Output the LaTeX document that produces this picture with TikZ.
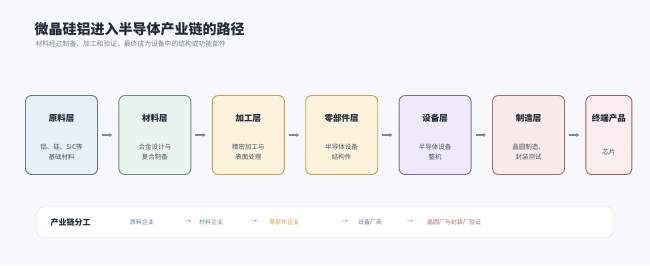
\documentclass[tikz,border=0pt]{standalone}
\usepackage{fontspec}
\setmainfont{Noto Sans CJK SC}
\usepackage{xcolor}
\usetikzlibrary{positioning, arrows.meta}

\definecolor{bgcol}{HTML}{F6F8FB}
\definecolor{ink}{HTML}{1F2A3A}
\definecolor{subgray}{HTML}{7A8490}
\definecolor{rawline}{HTML}{5B7A99}  \definecolor{rawfill}{HTML}{E8F0FA}
\definecolor{matline}{HTML}{6B8F73}  \definecolor{matfill}{HTML}{E9F5EC}
\definecolor{procline}{HTML}{C9A24A} \definecolor{procfill}{HTML}{FDF3DC}
\definecolor{equline}{HTML}{7B6BA6}  \definecolor{equfill}{HTML}{EFEAFB}
\definecolor{mfgline}{HTML}{B06A6A}  \definecolor{mfgfill}{HTML}{FBEAEA}
\definecolor{arrowgray}{HTML}{7D8A94}

\begin{document}
\begin{tikzpicture}[
  x=1pt, y=1pt,
  layer/.style={draw, line width=0.9pt, rounded corners=6pt, minimum width=72pt, minimum height=79pt, inner sep=0pt},
  head/.style={font=\fontsize{8.5}{10}\selectfont\bfseries, text=ink},
  desc/.style={font=\fontsize{6.5}{10}\selectfont, text=ink!80, align=center},
  arrow/.style={-{Latex[length=3pt, width=4pt]}, line width=1.2pt, draw=arrowgray},
  item/.style={font=\fontsize{6}{7}\selectfont},
  small/.style={font=\fontsize{6}{7}\selectfont, text=arrowgray},
  node distance=20.5pt,
]
  % canvas
  \fill[bgcol] (0,0) rectangle (650,-265);
  \useasboundingbox (0,0) rectangle (650,-265);

  % title
  \node[anchor=west, font=\fontsize{14}{16}\selectfont\bfseries, text=ink] (title) at (31,-29) {微晶硅铝进入半导体产业链的路径};
  \node[anchor=west, font=\fontsize{6.8}{8}\selectfont, text=subgray] (subtitle) at (32,-44) {材料经过制备、加工和验证，最终成为设备中的结构或功能部件};

  % layers
  \node[layer, draw=rawline, fill=rawfill] (raw) at (61.5,-135) {};
  \node[layer, draw=matline, fill=matfill, right=of raw] (mat) {};
  \node[layer, draw=procline, fill=procfill, right=of mat] (proc) {};
  \node[layer, draw=procline, fill=procfill, right=of proc] (part) {};
  \node[layer, draw=equline, fill=equfill, right=of part] (equ) {};
  \node[layer, draw=mfgline, fill=mfgfill, right=of equ] (mfg) {};
  \node[layer, draw=mfgline!90!black, fill=mfgfill!80!white, minimum width=46pt, right=of mfg] (chip) {};

  % layer texts
  \node[head] at ([yshift=17pt]raw.center) {原料层};
  \node[desc] at ([yshift=-17pt]raw.center) {铝、硅、SiC等\\基础材料};
  \node[head] at ([yshift=17pt]mat.center) {材料层};
  \node[desc] at ([yshift=-17pt]mat.center) {合金设计与\\复合制备};
  \node[head] at ([yshift=17pt]proc.center) {加工层};
  \node[desc] at ([yshift=-17pt]proc.center) {精密加工与\\表面处理};
  \node[head] at ([yshift=17pt]part.center) {零部件层};
  \node[desc] at ([yshift=-17pt]part.center) {半导体设备\\结构件};
  \node[head] at ([yshift=17pt]equ.center) {设备层};
  \node[desc] at ([yshift=-17pt]equ.center) {半导体设备\\整机};
  \node[head] at ([yshift=17pt]mfg.center) {制造层};
  \node[desc] at ([yshift=-17pt]mfg.center) {晶圆制造、\\封装测试};
  \node[head] at ([yshift=17pt]chip.center) {终端产品};
  \node[desc] at ([yshift=-17pt]chip.center) {芯片};

  % arrows
  \foreach \a/\b in {raw/mat, mat/proc, proc/part, part/equ, equ/mfg, mfg/chip}
    \draw[arrow] ([xshift=4pt]\a.east) -- ([xshift=-6pt]\b.west);

  % division of labour
  \node[draw=black!12, fill=white, rounded corners=6pt, minimum width=576pt, minimum height=30pt] (chain) at (325,-222) {};
  \node[anchor=west, font=\fontsize{8}{9}\selectfont\bfseries, text=ink] (chainlabel) at (47,-222) {产业链分工};
  \node[item, text=rawline] (c1) at (142,-222) {原料企业};
  \node[small] at (188,-222) {→};
  \node[item, text=matline] (c2) at (211,-222) {材料企业};
  \node[small] at (254,-222) {→};
  \node[item, text=procline] (c3) at (284,-222) {零部件企业};
  \node[small] at (345,-222) {→};
  \node[item, text=equline] (c4) at (370,-222) {设备厂商};
  \node[small] at (410,-222) {→};
  \node[item, text=mfgline] (c5) at (454,-222) {晶圆厂与封装厂验证};

\end{tikzpicture}
\end{document}
